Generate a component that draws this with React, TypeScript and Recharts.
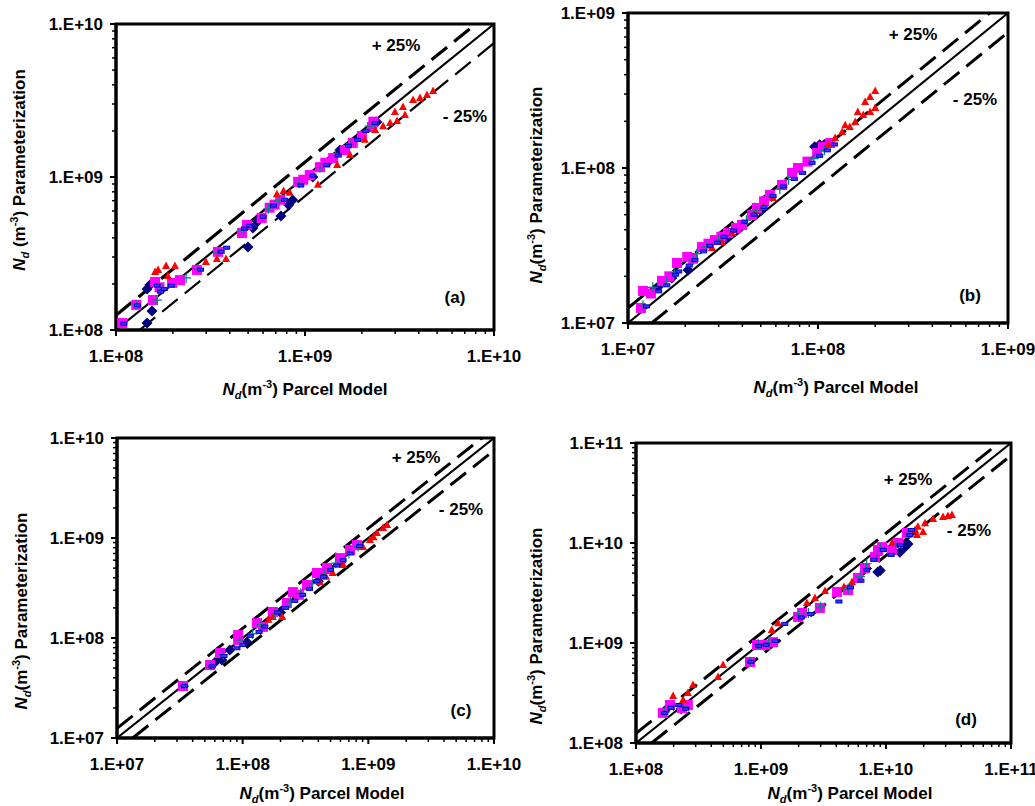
import React from 'react';
import { ScatterChart, Scatter, XAxis, YAxis, ReferenceLine, ReferenceArea } from 'recharts';

const FONT = '"Liberation Sans", Arial, sans-serif';

// tick values (decades) for every panel
const aTicks = [1e8, 1e9, 1e10];
const bTicks = [1e7, 1e8, 1e9];
const cTicks = [1e7, 1e8, 1e9, 1e10];
const dTicks = [1e8, 1e9, 1e10, 1e11];

// panel (a)
const aDiamond = [
  [1.46e8, 1.11e8], [1.55e8, 1.33e8], [1.46e8, 1.85e8], [1.51e8, 1.97e8], [4.99e8, 3.49e8],
  [5.3e8, 4.64e8], [5.6e8, 5.1e8], [7.46e8, 5.56e8], [8.2e8, 6.56e8], [8.6e8, 7.08e8],
  [1.1e9, 1.0e9], [1.36e9, 1.29e9], [1.53e9, 1.5e9], [1.95e9, 1.83e9], [2.4e9, 2.29e9],
];
const aTriangle = [
  [1.61e8, 2.39e8], [1.67e8, 2.47e8], [1.84e8, 2.62e8], [2.05e8, 2.62e8], [1.88e8, 2.25e8],
  [2.99e8, 2.78e8], [3.42e8, 2.91e8], [3.82e8, 2.91e8], [7.1e8, 7.7e8], [7.7e8, 8.1e8],
  [8.3e8, 7.9e8], [1.17e9, 8.9e8], [1.48e9, 1.2e9], [1.73e9, 1.39e9], [2.07e9, 1.75e9],
  [2.35e9, 2.03e9], [2.59e9, 2.15e9], [2.82e9, 2.25e9], [3.07e9, 2.32e9], [3.38e9, 2.54e9],
  [2.99e9, 2.66e9], [3.3e9, 2.87e9], [3.73e9, 3.19e9], [4.06e9, 3.28e9], [4.42e9, 3.43e9],
  [4.76e9, 3.65e9],
];
const aSquare = [
  [1.08e8, 1.11e8], [1.28e8, 1.46e8], [1.57e8, 1.57e8], [1.61e8, 2.06e8], [1.7e8, 1.9e8],
  [1.98e8, 2.03e8], [2.18e8, 2.12e8], [2.68e8, 2.47e8], [3.46e8, 3.24e8], [4.64e8, 4.3e8],
  [4.93e8, 4.86e8], [5.9e8, 5.4e8], [6.5e8, 6.3e8], [6.9e8, 6.6e8], [7.4e8, 7.1e8],
  [9.2e8, 9.3e8], [9.8e8, 9.6e8], [1.06e9, 1.03e9], [1.2e9, 1.16e9], [1.28e9, 1.24e9],
  [1.41e9, 1.33e9], [1.63e9, 1.5e9], [1.79e9, 1.67e9], [2.0e9, 1.85e9], [2.26e9, 2.12e9],
  [2.3e9, 2.3e9],
];
const aPlus = [
  [1.28e8, 1.46e8], [1.65e8, 1.57e8], [1.75e8, 1.85e8], [2.35e8, 2.19e8], [2.7e8, 2.5e8],
  [3.45e8, 3.2e8], [4.7e8, 4.5e8], [6.4e8, 6.2e8], [7.3e8, 7.0e8], [9.3e8, 9.1e8],
  [1.2e9, 1.15e9], [1.45e9, 1.38e9], [1.75e9, 1.65e9], [2.2e9, 2.15e9],
];
const aDash = [
  [1.1e8, 1.1e8], [1.3e8, 1.45e8], [1.65e8, 1.95e8], [1.72e8, 1.78e8], [1.8e8, 1.85e8],
  [1.96e8, 1.95e8], [2.8e8, 2.48e8], [3.6e8, 3.25e8], [3.85e8, 3.45e8], [4.8e8, 4.6e8],
  [5.1e8, 4.8e8], [6.0e8, 5.5e8], [6.8e8, 6.5e8], [7.8e8, 7.1e8], [9.5e8, 8.8e8],
  [1.1e9, 1.02e9], [1.3e9, 1.2e9], [1.5e9, 1.38e9], [1.7e9, 1.6e9], [1.9e9, 1.75e9],
  [2.1e9, 2.0e9], [2.35e9, 2.25e9],
];

// panel (b)
const bDiamond = [
  [1.44e7, 1.71e7], [1.7e7, 1.95e7], [2.07e7, 2.2e7], [3.3e7, 3.55e7], [5.0e7, 5.3e7],
  [9.6e7, 1.37e8], [1.02e8, 1.41e8], [1.08e8, 1.42e8],
];
const bTriangle = [
  [2.77e7, 3.05e7], [3.12e7, 3.33e7], [3.53e7, 3.81e7], [4.66e7, 5.13e7], [5.14e7, 5.6e7],
  [5.8e7, 6.4e7], [1.13e8, 1.41e8], [1.23e8, 1.56e8], [1.34e8, 1.71e8], [1.39e8, 1.89e8],
  [1.47e8, 1.84e8], [1.57e8, 1.98e8], [1.62e8, 2.3e8], [1.73e8, 2.2e8], [1.77e8, 2.67e8],
  [1.88e8, 2.3e8], [1.88e8, 2.87e8], [2.0e8, 3.14e8], [2.0e8, 2.44e8],
];
const bSquare = [
  [1.17e7, 1.25e7], [1.2e7, 1.61e7], [1.32e7, 1.55e7], [1.51e7, 1.87e7], [1.65e7, 2.0e7],
  [1.81e7, 2.44e7], [2.05e7, 2.67e7], [2.2e7, 2.6e7], [2.45e7, 3.09e7], [2.65e7, 3.25e7],
  [2.87e7, 3.43e7], [3.1e7, 3.6e7], [3.36e7, 3.81e7], [3.7e7, 4.1e7], [3.98e7, 4.29e7],
  [4.5e7, 4.97e7], [4.77e7, 5.52e7], [5.2e7, 6.1e7], [5.59e7, 6.7e7], [6.47e7, 7.77e7],
  [7.3e7, 9.3e7], [7.85e7, 1.0e8], [8.8e7, 1.1e8], [9.9e7, 1.25e8], [1.06e8, 1.37e8],
  [1.16e8, 1.45e8],
];
const bPlus = [
  [1.2e7, 1.3e7], [1.35e7, 1.7e7], [1.6e7, 1.85e7], [1.75e7, 2.1e7], [2.2e7, 2.55e7],
  [2.3e7, 2.8e7], [2.6e7, 3.1e7], [3.0e7, 3.45e7], [3.5e7, 3.9e7], [4.2e7, 4.6e7],
  [4.7e7, 5.3e7], [5.7e7, 6.5e7], [6.3e7, 7.3e7], [7.0e7, 8.4e7], [9.5e7, 1.15e8],
  [1.08e8, 1.3e8],
];
const bDash = [
  [1.25e7, 1.28e7], [1.45e7, 1.6e7], [1.6e7, 1.75e7], [1.78e7, 2.05e7], [1.85e7, 2.15e7],
  [2.1e7, 2.35e7], [2.25e7, 2.55e7], [2.5e7, 2.9e7], [2.7e7, 3.15e7], [2.95e7, 3.3e7],
  [3.2e7, 3.6e7], [3.6e7, 3.95e7], [4.1e7, 4.5e7], [4.6e7, 5.0e7], [5.2e7, 5.6e7],
  [5.8e7, 6.6e7], [6.6e7, 7.6e7], [7.5e7, 8.5e7], [8.3e7, 9.3e7], [9.3e7, 1.08e8],
  [1.02e8, 1.2e8], [1.12e8, 1.3e8], [1.22e8, 1.42e8],
];

// panel (c)
const cDiamond = [
  [6.0e7, 5.7e7], [6.84e7, 6.03e7], [7.9e7, 7.6e7], [1.08e8, 9.1e7], [2.0e8, 1.8e8],
  [4.0e8, 3.7e8], [6.0e8, 5.7e8],
];
const cTriangle = [
  [1.6e8, 1.52e8], [1.74e8, 1.62e8], [2.06e8, 1.62e8], [4.12e8, 3.63e8], [4.6e8, 4.1e8],
  [5.2e8, 4.47e8], [6.3e8, 5.37e8], [9.06e8, 8.13e8], [1.03e9, 9.55e8], [1.1e9, 1.02e9],
  [1.17e9, 1.12e9], [1.31e9, 1.26e9], [1.41e9, 1.35e9],
];
const cSquare = [
  [3.35e7, 3.31e7], [5.5e7, 5.37e7], [6.6e7, 7.08e7], [9.2e7, 9.55e7], [9.2e7, 1.07e8],
  [1.3e8, 1.41e8], [1.45e8, 1.29e8], [1.74e8, 1.82e8], [2.25e8, 2.24e8], [2.51e8, 2.88e8],
  [2.8e8, 2.7e8], [3.25e8, 3.39e8], [3.9e8, 4.47e8], [4.69e8, 5.0e8], [5.94e8, 6.3e8],
  [7.14e8, 7.59e8], [8.1e8, 8.5e8],
];
const cPlus = [
  [3.4e7, 3.3e7], [5.6e7, 5.3e7], [7.0e7, 6.8e7], [9.5e7, 9.5e7], [1.2e8, 1.1e8],
  [1.4e8, 1.35e8], [1.8e8, 1.75e8], [2.4e8, 2.3e8], [2.9e8, 2.8e8], [3.6e8, 3.5e8],
  [4.5e8, 4.4e8], [5.5e8, 5.6e8], [7.0e8, 7.0e8], [8.3e8, 8.2e8],
];
const cDash = [
  [3.45e7, 3.3e7], [5.7e7, 5.2e7], [7.1e7, 6.6e7], [9.0e7, 7.9e7], [1.0e8, 8.5e7],
  [1.15e8, 1.05e8], [1.35e8, 1.15e8], [1.5e8, 1.3e8], [1.9e8, 1.8e8], [2.2e8, 2.0e8],
  [2.6e8, 2.35e8], [3.0e8, 2.7e8], [3.4e8, 3.1e8], [3.9e8, 3.7e8], [4.4e8, 4.1e8],
  [5.0e8, 4.8e8], [5.6e8, 5.3e8], [6.3e8, 6.0e8], [7.2e8, 7.0e8], [8.5e8, 8.3e8],
];

// panel (d)
const dDiamond = [
  [1.7e8, 2.1e8], [2.3e8, 2.2e8], [1.05e9, 9.5e8], [2.1e9, 1.85e9], [8.6e9, 5.13e9],
  [9.0e9, 5.3e9], [1.29e10, 8.1e9], [1.42e10, 9.1e9], [1.5e10, 9.8e9],
];
const dTriangle = [
  [1.98e8, 2.95e8], [2.38e8, 2.69e8], [2.6e8, 3.16e8], [2.86e8, 3.8e8], [4.53e8, 4.57e8],
  [4.97e8, 6.03e8], [1.22e9, 1.35e9], [1.37e9, 1.58e9], [2.33e9, 2.51e9], [2.7e9, 2.82e9],
  [3.25e9, 3.31e9], [4.61e9, 3.63e9], [5.35e9, 4.07e9], [1.12e10, 1.0e10], [1.71e10, 1.35e10],
  [1.8e10, 1.45e10], [2.05e10, 1.58e10], [2.38e10, 1.74e10], [2.86e10, 1.82e10], [3.13e10, 1.86e10],
  [3.37e10, 1.9e10], [1.77e10, 1.2e10], [1.98e10, 1.29e10],
];
const dSquare = [
  [1.64e8, 2.0e8], [1.87e8, 2.4e8], [2.33e8, 2.24e8], [2.6e8, 2.4e8], [8.17e8, 6.46e8],
  [9.3e8, 9.55e8], [1.08e9, 9.55e8], [1.25e9, 1.02e9], [1.98e9, 1.82e9], [2.13e9, 2.0e9],
  [2.96e9, 2.24e9], [4.06e9, 3.24e9], [4.97e9, 3.39e9], [5.97e9, 4.47e9], [6.79e9, 5.62e9],
  [8.17e9, 7.24e9], [8.63e9, 8.5e9], [9.3e9, 9.1e9], [1.12e10, 8.5e9], [1.25e10, 1.0e10],
  [1.47e10, 1.26e10],
];
const dPlus = [
  [1.7e8, 2.05e8], [2.0e8, 2.35e8], [2.4e8, 2.3e8], [8.2e8, 6.5e8], [9.5e8, 9.8e8],
  [1.15e9, 1.0e9], [2.0e9, 1.9e9], [2.4e9, 2.0e9], [3.0e9, 2.3e9], [5.0e9, 3.5e9],
  [6.2e9, 4.6e9], [7.0e9, 6.2e9], [8.5e9, 7.5e9], [9.0e9, 9.0e9], [1.2e10, 9.5e9],
  [1.5e10, 1.25e10],
];
const dDash = [
  [1.7e8, 2.0e8], [1.9e8, 2.25e8], [2.2e8, 2.4e8], [2.5e8, 2.2e8], [8.3e8, 6.5e8],
  [9.6e8, 9.3e8], [1.1e9, 9.6e8], [1.3e9, 1.05e9], [1.55e9, 1.55e9], [2.1e9, 1.8e9],
  [2.5e9, 1.95e9], [4.2e9, 2.6e9], [5.2e9, 3.6e9], [6.3e9, 4.2e9], [7.0e9, 5.4e9],
  [8.0e9, 6.8e9], [9.5e9, 8.5e9], [1.1e10, 7.6e9], [1.3e10, 9.5e9], [1.55e10, 1.2e10],
  [1.6e10, 1.35e10],
];

const toPts = (rows: number[][]) => rows.map(([x, y]) => ({ x, y }));

const minorTicks = (decades: number[]) => {
  const out: number[] = [...decades];
  decades.slice(0, -1).forEach((d) => {
    for (let k = 2; k <= 9; k++) out.push(k * d);
  });
  return out.sort((a, b) => a - b);
};

const isDecade = (v: number) => Math.abs(Math.log10(v) - Math.round(Math.log10(v))) < 1e-6;
const fmt = (v: number) => {
  const e = Math.round(Math.log10(v));
  return `1.E+${e < 10 ? '0' + e : e}`;
};

const Diamond = (p: any) => (
  <polygon points={`${p.cx},${p.cy - 5.5} ${p.cx + 5.5},${p.cy} ${p.cx},${p.cy + 5.5} ${p.cx - 5.5},${p.cy}`} fill="#000080" />
);
const Square = (p: any) => <rect x={p.cx - 5} y={p.cy - 5} width={10} height={10} fill="#FF00FF" />;
const Triangle = (p: any) => (
  <polygon points={`${p.cx},${p.cy - 4.5} ${p.cx + 4},${p.cy + 3} ${p.cx - 4},${p.cy + 3}`} fill="#FF0000" />
);
const Plus = (p: any) => (
  <path d={`M${p.cx - 5},${p.cy}H${p.cx + 5}M${p.cx},${p.cy - 5}V${p.cy + 5}`} stroke="#008080" strokeWidth={1.2} />
);
const Dash = (p: any) => (
  <rect x={p.cx - 3} y={p.cy - 1.5} width={6} height={3} fill="#3535ff" stroke="#0000cc" strokeWidth={1} />
);

const XTick = (p: any) => {
  const v = p.payload.value;
  const major = isDecade(v);
  return (
    <g>
      <line x1={p.x} x2={p.x} y1={p.y} y2={p.y + (major ? 6 : 4)} stroke="#000" strokeWidth={major ? 2 : 1.5} />
      {major && (
        <text x={p.x} y={p.y + 32} textAnchor="middle" fontFamily={FONT} fontWeight="bold" fontSize={17} fill="#000">
          {fmt(v)}
        </text>
      )}
    </g>
  );
};

const YTick = (p: any) => {
  const v = p.payload.value;
  const major = isDecade(v);
  return (
    <g>
      <line x1={p.x} x2={p.x - (major ? 6 : 4)} y1={p.y} y2={p.y} stroke="#000" strokeWidth={major ? 2 : 1.5} />
      {major && (
        <text x={p.x - 13} y={p.y} dy="0.35em" textAnchor="end" fontFamily={FONT} fontWeight="bold" fontSize={17} fill="#000">
          {fmt(v)}
        </text>
      )}
    </g>
  );
};

type PanelProps = {
  L: number; T: number; R: number; B: number;
  ticks: number[];
  diamond: number[][]; triangle: number[][]; square: number[][]; plus: number[][]; dash: number[][];
  upperW: number; lowerW: number;
};

const Panel = ({ L, T, R, B, ticks, diamond, triangle, square, plus, dash, upperW, lowerW }: PanelProps) => {
  const lo = ticks[0];
  const hi = ticks[ticks.length - 1];
  const all = minorTicks(ticks);
  const W = R - L + 116 + 40;
  const H = B - T + 20 + 50;
  return (
    <div style={{ position: 'absolute', left: L - 116, top: T - 20 }}>
      <ScatterChart width={W} height={H} margin={{ top: 20, right: 40, bottom: 10, left: 0 }}>
        <XAxis
          type="number" dataKey="x" scale="log" domain={[lo, hi]} ticks={all} interval={0}
          allowDataOverflow height={40} tickSize={0} tickMargin={0} tickLine={false}
          axisLine={{ stroke: '#000', strokeWidth: 3 }} tick={<XTick />}
        />
        <YAxis
          type="number" dataKey="y" scale="log" domain={[lo, hi]} ticks={all} interval={0}
          allowDataOverflow width={116} tickSize={0} tickMargin={0} tickLine={false}
          axisLine={{ stroke: '#000', strokeWidth: 3 }} tick={<YTick />}
        />
        <ReferenceArea x1={lo} x2={hi} y1={lo} y2={hi} fill="none" stroke="#000" strokeWidth={3} />
        <ReferenceLine segment={[{ x: lo, y: lo }, { x: hi, y: hi }]} stroke="#000" strokeWidth={2.2} />
        <ReferenceLine
          segment={[{ x: lo, y: lo * 1.25 }, { x: hi / 1.25, y: hi }]}
          stroke="#000" strokeWidth={upperW} strokeDasharray="20 9"
        />
        <ReferenceLine
          segment={[{ x: lo / 0.75, y: lo }, { x: hi, y: hi * 0.75 }]}
          stroke="#000" strokeWidth={lowerW} strokeDasharray="20 9"
        />
        <Scatter data={toPts(diamond)} shape={Diamond} isAnimationActive={false} />
        <Scatter data={toPts(square)} shape={Square} isAnimationActive={false} />
        <Scatter data={toPts(triangle)} shape={Triangle} isAnimationActive={false} />
        <Scatter data={toPts(plus)} shape={Plus} isAnimationActive={false} />
        <Scatter data={toPts(dash)} shape={Dash} isAnimationActive={false} />
      </ScatterChart>
    </div>
  );
};

const txt: React.CSSProperties = {
  position: 'absolute', fontFamily: FONT, fontWeight: 'bold', fontSize: 17, lineHeight: 1,
  whiteSpace: 'nowrap', color: '#000', transform: 'translate(-50%, -50%)',
};

const Title = ({ x, y, rotate, gap, label }: { x: number; y: number; rotate?: boolean; gap?: boolean; label: string }) => (
  <div style={{ ...txt, left: x, top: y, transform: `translate(-50%, -50%)${rotate ? ' rotate(-90deg)' : ''}` }}>
    <i>N</i><sub style={{ fontSize: 11 }}><i>d</i></sub>{gap ? ' ' : ''}(m<sup style={{ fontSize: 11 }}>-3</sup>) {label}
  </div>
);

const Note = ({ x, y, children }: { x: number; y: number; children: React.ReactNode }) => (
  <div style={{ ...txt, left: x, top: y }}>{children}</div>
);

export default function App() {
  return (
    <div style={{ position: 'absolute', left: 0, top: 0, width: 1035, height: 806, overflow: 'hidden', background: '#fff' }}>
      <Panel L={116} T={24} R={494} B={330} ticks={aTicks} diamond={aDiamond} triangle={aTriangle}
        square={aSquare} plus={aPlus} dash={aDash} upperW={3.2} lowerW={2.2} />
      <Panel L={628} T={13} R={1008} B={323} ticks={bTicks} diamond={bDiamond} triangle={bTriangle}
        square={bSquare} plus={bPlus} dash={bDash} upperW={3} lowerW={3} />
      <Panel L={117} T={438} R={494} B={738} ticks={cTicks} diamond={cDiamond} triangle={cTriangle}
        square={cSquare} plus={cPlus} dash={cDash} upperW={3} lowerW={3} />
      <Panel L={636} T={443} R={1011} B={743} ticks={dTicks} diamond={dDiamond} triangle={dTriangle}
        square={dSquare} plus={dPlus} dash={dDash} upperW={3} lowerW={3} />

      <Title x={20} y={170} rotate gap label="Parameterization" />
      <Title x={305} y={390} label="Parcel Model" />
      <Title x={537} y={185} rotate label="Parameterization" />
      <Title x={836} y={388} label="Parcel Model" />
      <Title x={22} y={611} rotate label="Parameterization" />
      <Title x={322} y={794} label="Parcel Model" />
      <Title x={537} y={626} rotate label="Parameterization" />
      <Title x={850} y={794} label="Parcel Model" />

      <Note x={396} y={45}>+ 25%</Note>
      <Note x={465} y={116}>- 25%</Note>
      <Note x={455} y={297}>(a)</Note>
      <Note x={913} y={34}>+ 25%</Note>
      <Note x={975} y={99}>- 25%</Note>
      <Note x={970} y={295}>(b)</Note>
      <Note x={416} y={457}>+ 25%</Note>
      <Note x={461} y={509}>- 25%</Note>
      <Note x={461} y={710}>(c)</Note>
      <Note x={908} y={479}>+ 25%</Note>
      <Note x={969} y={530}>- 25%</Note>
      <Note x={966} y={719}>(d)</Note>
    </div>
  );
}
